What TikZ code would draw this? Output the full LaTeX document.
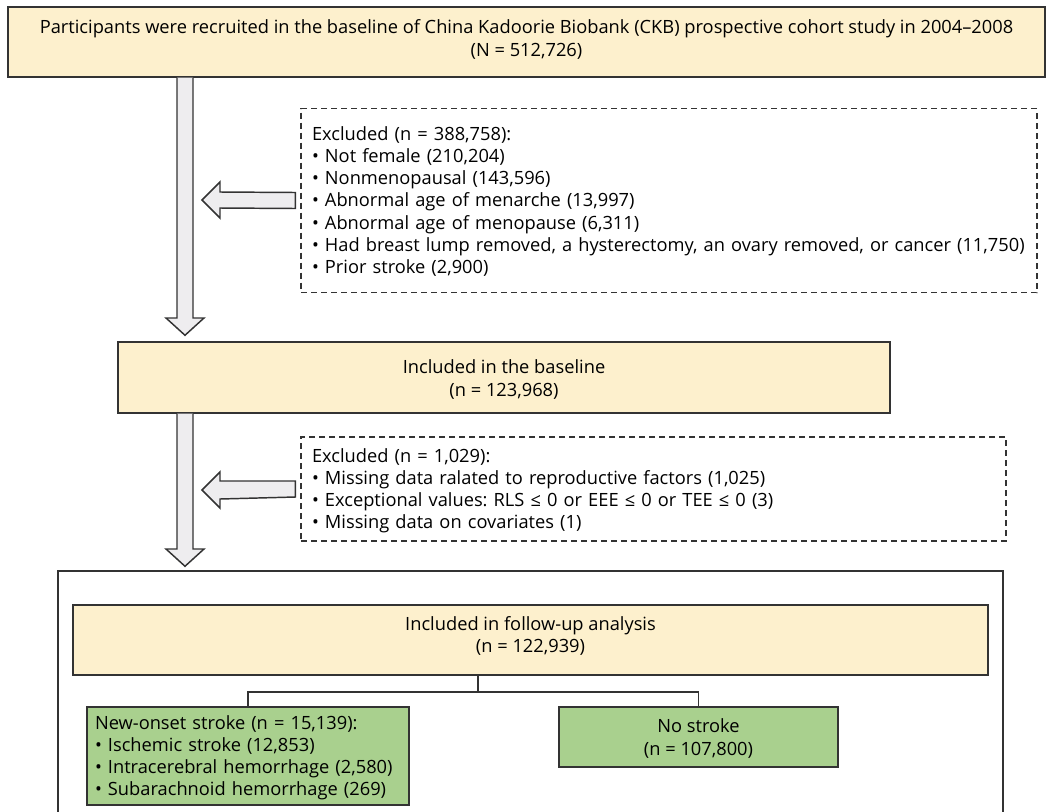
\documentclass[tikz,border=0pt]{standalone}
\usepackage{fontspec}
\setmainfont{Open Sans}
\usetikzlibrary{calc}
\definecolor{boxyellow}{HTML}{FDF0CD}
\definecolor{boxgreen}{HTML}{A9D08E}
\definecolor{arrowgray}{HTML}{EEEDEF}
\definecolor{linegray}{HTML}{333333}
\frenchspacing
% lines of a box, lifted a little: alignment, lift, lines
\newcommand{\boxlines}[3]{\raisebox{#2}[\height][\depth]{\begin{tabular}{@{}#1@{}}#3\end{tabular}}}

\begin{document}
\begin{tikzpicture}[x=0.75pt,y=-0.75pt]
  \tikzstyle{boxtext}=[font=\fontsize{13.7}{16.7}\selectfont, inner sep=0pt]
  \tikzstyle{yellowbox}=[boxtext, draw=linegray, fill=boxyellow, line width=1.1pt]
  \tikzstyle{greenbox}=[boxtext, draw=linegray, fill=boxgreen, line width=1.1pt]
  \tikzstyle{exclbox}=[boxtext, draw=linegray, line width=0.8pt, dash pattern=on 4.5pt off 3pt,
                       align=left, inner xsep=8.25pt]
  \tikzstyle{blockarrow}=[draw=linegray, fill=arrowgray, line width=1.1pt, line join=miter]
  \useasboundingbox (0,0) rectangle (1046,811);

  % boxes
  \node[yellowbox, minimum width=777.75pt, minimum height=52.5pt] (recruit) at (526.5,42)
    {\boxlines{c}{1pt}{Participants were recruited in the baseline of China Kadoorie Biobank (CKB) prospective cohort study in 2004--2008\\(N = 512,726)}};
  \node[exclbox, text width=535.5pt, minimum height=138pt] (excl1) at (669,200.5)
    {\boxlines{l}{-1.5pt}{Excluded (n = 388,758):\\
     • Not female (210,204)\\
     • Nonmenopausal (143,596)\\
     • Abnormal age of menarche (13,997)\\
     • Abnormal age of menopause (6,311)\\
     • Had breast lump removed, a hysterectomy, an ovary removed, or cancer (11,750)\\
     • Prior stroke (2,900)}};
  \node[yellowbox, minimum width=579pt, minimum height=53.25pt] (baseline) at (504,377.5)
    {\boxlines{c}{-2.2pt}{Included in the baseline\\(n = 123,968)}};
  \node[exclbox, text width=512.25pt, minimum height=78pt] (excl2) at (653.5,489)
    {\boxlines{l}{-1.5pt}{Excluded (n = 1,029):\\
     • Missing data ralated to reproductive factors (1,025)\\
     • Exceptional values: RLS ≤ 0 or EEE ≤ 0 or TEE ≤ 0 (3)\\
     • Missing data on covariates (1)}};
  \node[draw=linegray, line width=1.1pt, minimum width=708.75pt, minimum height=195pt] (outer) at (530.5,701) {};
  \node[yellowbox, minimum width=686.25pt, minimum height=52.5pt] (followup) at (530.5,640)
    {\boxlines{c}{2pt}{Included in follow-up analysis\\(n = 122,939)}};
  \node[greenbox, align=left, text width=229.5pt, inner xsep=6pt, minimum height=73.5pt] (stroke) at (248,756)
    {\boxlines{l}{-1.5pt}{New-onset stroke (n = 15,139):\\
     • Ischemic stroke (12,853)\\
     • Intracerebral hemorrhage (2,580)\\
     • Subarachnoid hemorrhage (269)}};
  \node[greenbox, minimum width=209.25pt, minimum height=45pt] (nostroke) at (698.5,737)
    {\boxlines{c}{-2pt}{No stroke\\(n = 107,800)}};

  % block arrows down
  \draw[blockarrow] (177,0 |- recruit.south) -- (177,318) -- (166,318) -- ($(185,0 |- baseline.north)+(0,-6)$)
    -- (204,318) -- (193,318) -- (193,0 |- recruit.south);
  \draw[blockarrow] (177,0 |- baseline.south) -- (177,549) -- (166,549) -- ($(185,0 |- outer.north)+(0,-4)$)
    -- (204,549) -- (193,549) -- (193,0 |- baseline.south);
  % block arrows left
  \draw[blockarrow] ($(excl1.west)+(-5,-8)$) -- (220,192) -- (220,182) -- (202,200) -- (220,218) -- (220,208)
    -- ($(excl1.west)+(-5,8)$) -- cycle;
  \draw[blockarrow] ($(excl2.west)+(-5,-8)$) -- (220,481) -- (220,472) -- (202,490) -- (220,508) -- (220,499)
    -- ($(excl2.west)+(-5,8)$) -- cycle;

  % split
  \coordinate (split) at (478,692);
  \draw[draw=linegray, line width=1.1pt] (followup.south -| split) -- (split);
  \draw[draw=linegray, line width=1.1pt] (stroke.north) |- (split) -| (nostroke.north);
\end{tikzpicture}
\end{document}
